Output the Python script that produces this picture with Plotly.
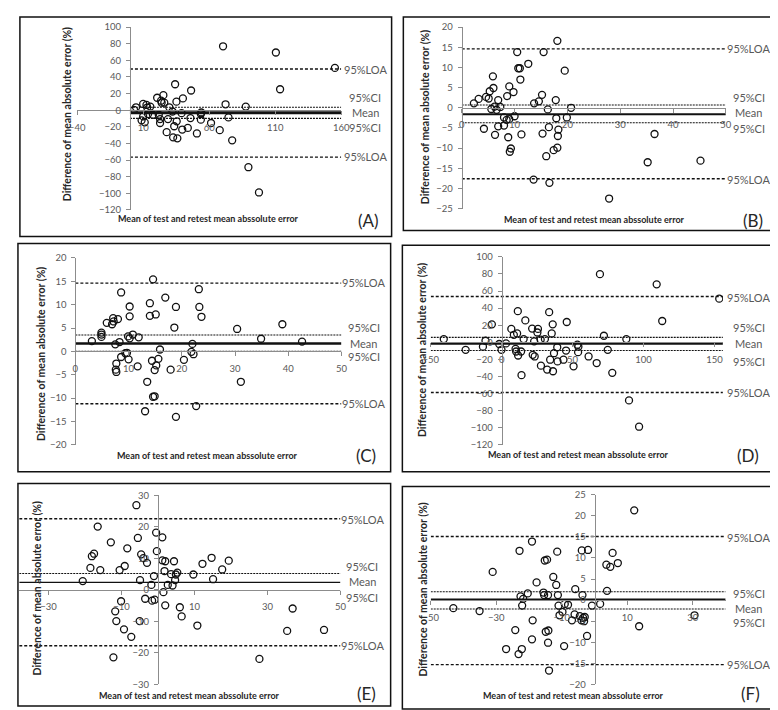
import plotly.graph_objects as go

W, H = 778, 710

# ---------------- data ----------------
a_x = [3.1, 4.6, 10, 8.8, 11.2, 10, 12.5, 13, 13.7, 15.4, 17.4, 20.6, 21.8, 22.8, 22.8, 23.6, 24, 25.3, 26,
       27.8, 28.8, 29.8, 32.2, 33.5, 32.7, 34.2, 35.2, 35.4, 35.9, 39.1, 40.1, 39.6, 43.8, 45.8, 46.3, 50.7,
       53.7, 53.7, 54, 61.4, 68, 70.5, 72.4, 74.6, 77.4, 87.7, 89.7, 97.7, 110.5, 113.7, 155.2]
a_y = [0.4, 3.5, 7.5, -12.2, -14.6, -7.5, 6.3, 3.2, -4.7, 4.3, -5.5, 15, -5.5, -10.7, -15.4, 11.4, 9, 18.1, 9,
       -26.4, -10.7, 3.5, -1.6, -19.3, -32.7, 31.2, 10.3, -13.4, -33.9, -3.6, 14.2, -23.3, -21.3, -9.5, 23.7, -28,
       -4.7, -11.4, -2.8, -15.4, -24, 76.9, 7.1, -8.7, -36.3, 4.3, -68.6, -99, 69.4, 25.2, 50.9]
a_stats = [-56.5, -9.8, -3.2, 3.5, 49.5]   # LOA low, CI low, mean, CI up, LOA up

b_x = [2.3, 3.2, 4.2, 4.6, 5.1, 5.3, 5.6, 5.9, 6.0, 6.2, 6.3, 6.6, 6.9, 6.9, 7.3, 8.0, 8.0, 8.5, 8.6, 8.8, 9.0,
       9.0, 9.1, 9.3, 9.8, 10.0, 10.5, 10.7, 11.0, 11.1, 11.3, 12.6, 13.6, 13.7, 14.6, 15.2, 15.3, 15.5, 16.0,
       16.3, 16.5, 16.6, 17.4, 17.8, 17.9, 18.1, 18.1, 18.2, 18.3, 19.5, 19.9, 20.7, 27.9, 35.2, 36.5, 45.2]
b_y = [1.1, 2.2, -5.2, 2.7, 2.3, 4.1, -0.3, 7.8, 4.9, 0.3, -6.7, -0.5, 1.9, -4.6, 0.2, -4.4, -2.4, -3.0, 2.9,
       -7.3, 5.3, -2.8, -10.9, -10.1, 3.9, -2.1, 13.8, 9.8, 9.8, 7.0, -6.6, 10.9, -17.8, 1.1, 1.6, 3.2, -6.4,
       13.8, -12.0, -0.4, -4.8, -18.6, -10.5, 1.9, -2.6, -9.9, 16.6, -7.0, -5.4, 9.2, -2.4, 0.0, -22.5, -13.5,
       -6.5, -13.1]
b_stats = [-17.6, -3.7, -1.6, 0.7, 14.6]

c_x = [3.1, 4.9, 4.9, 4.9, 5.9, 6.9, 7.1, 7.2, 7.5, 7.6, 7.7, 7.7, 8.0, 8.3, 8.6, 8.6, 9.4, 9.7, 9.9, 10.0,
       10.2, 10.2, 10.2, 10.8, 11.7, 11.9, 13.5, 13.1, 14.0, 14.0, 14.4, 14.6, 14.6, 14.9, 14.9, 15.1, 15.2,
       15.6, 15.9, 16.9, 17.9, 18.6, 18.9, 18.9, 20.4, 21.8, 22.0, 22.2, 22.7, 23.2, 23.3, 23.7, 30.4, 31.1,
       34.9, 38.9, 42.6]
c_y = [2.2, 4.0, 3.6, 3.1, 6.1, 5.8, 7.1, 6.4, 1.5, -3.9, -2.6, -4.4, 6.9, 2.0, 12.6, -1.2, -0.4, -0.3, 3.2,
       -1.7, 2.8, 9.6, 7.5, 3.6, -3.2, 3.0, -6.5, -12.8, 10.3, 7.6, -2.0, 15.4, -9.7, -9.6, -4.0, 7.9, -3.0,
       -1.6, 0.4, 11.5, -3.9, 5.1, 9.5, -14.0, -1.8, -0.1, 1.6, -0.6, -11.7, 13.3, 9.5, 7.4, 4.8, -6.5, 2.7,
       5.8, 2.1]
c_stats = [-11.2, 0.0, 1.7, 3.5, 14.6]

d_x = [-40.8, -25.4, -13.2, -11.4, -6.9, -1.7, -0.1, 3.1, 6.8, 8.6, 9.8, 10.2, 10.9, 11.4, 11.6, 13.7, 14.0,
       15.5, 16.7, 21.5, 21.9, 22.9, 23.3, 25.2, 25.6, 27.5, 27.7, 30.5, 32.1, 33.5, 34.2, 35.3, 36.0, 36.2,
       36.9, 39.2, 39.4, 43.6, 45.4, 45.9, 50.7, 53.4, 53.9, 54.1, 61.3, 67.0, 69.3, 72.1, 74.8, 78.0, 87.9,
       89.8, 96.9, 109.3, 113.2, 153.4]
d_y = [3.8, -8.8, -5.0, 1.9, 21.1, -1.9, -8.8, -1.2, 15.7, 8.8, -7.7, -10.7, 10.4, 36.5, -15.4, -10.7, -38.4,
       3.8, 25.7, 16.1, -14.6, 1.2, -16.5, 11.5, 15.7, 3.1, -27.3, 3.8, -31.9, 35.3, -20.3, 10.4, 21.1, -33.8,
       -12.7, -5.8, -22.3, -20.3, -9.6, 23.8, -28.0, -2.7, -11.5, -5.0, -16.5, -24.2, 79.8, 7.7, -8.8, -35.7,
       3.8, -67.9, -98.7, 67.9, 25.0, 51.1]
d_stats = [-58.7, -9.6, -1.5, 5.8, 53.7]

e_x = [-20.6, -18.5, -18.1, -17.5, -16.5, -15.8, -12.9, -12.2, -11.7, -11.4, -10.5, -10.1, -9.3, -9.1, -8.4,
       -7.3, -5.9, -5.5, -5.0, -4.9, -4.6, -4.0, -3.5, -3.0, -1.8, -1.6, -1.1, -0.9, -0.5, -0.3, 1.2, 1.2, 1.5,
       1.8, 2.0, 2.0, 2.7, 3.6, 4.0, 4.4, 4.7, 4.9, 5.3, 6.0, 6.5, 9.7, 10.8, 12.2, 14.7, 15.1, 17.6, 19.4,
       27.8, 35.4, 36.9, 45.5]
e_y = [2.8, 7.0, 10.7, 11.5, 20.1, 6.3, 15.1, -21.4, -6.8, -9.9, 6.3, -3.6, -12.5, 7.6, 13.2, -14.9, 26.9,
       16.5, -9.9, 3.1, 11.3, 10.1, -2.8, 8.6, 1.6, -3.4, 4.4, -3.1, 18.2, 12.3, 16.7, 9.4, -0.7, 6.0, 9.1,
       -4.9, 1.6, 5.0, 1.4, 9.1, 3.1, 4.9, 5.5, -5.5, -8.4, 4.9, -11.3, 8.3, 10.2, 3.4, 6.5, 9.3, -21.9, -13.0,
       -5.9, -12.7]
e_stats = [-17.7, -0.2, 2.4, 5.2, 22.6]

f_x = [-43.1, -35.1, -31.1, -24.2, -27.0, -23.2, -22.9, -22.6, -22.2, -22.1, -21.8, -20.4, -19.1, -19.1,
       -18.9, -17.7, -15.6, -15.4, -15.2, -14.9, -14.5, -14.2, -14.2, -14.1, -13.9, -12.6, -11.7, -11.4, -11.2,
       -11.0, -10.7, -9.8, -9.3, -9.1, -8.1, -6.9, -6.1, -5.9, -4.5, -4.0, -3.9, -3.7, -3.5, -3.2, -3.0, -2.3,
       -2.0, -0.8, 1.7, 3.6, 3.8, 4.8, 5.5, 7.1, 12.1, 13.6, 30.5]
f_y = [-1.9, -2.6, 6.7, -7.1, -11.6, -12.8, 11.7, 0.9, -11.6, -1.3, 0.3, 1.6, 13.9, -9.3, -4.8, 4.2, 1.8, 1.2,
       9.4, -7.5, 9.6, 1.2, -10.1, -7.2, -16.7, 5.5, 3.6, 11.5, 1.2, -1.3, -3.6, -2.8, -10.9, -0.9, -1.1, -4.8,
       -3.4, 2.6, -3.8, -4.8, 11.8, 1.2, -4.2, -5.0, -4.0, -8.5, 11.9, -1.3, -0.9, 8.4, 2.2, 7.9, 11.2, 8.8,
       21.3, -6.2, -3.6]
f_stats = [-15.3, -2.1, 0.1, 2.0, 15.1]

line_labels = ["95%LOA", "95%CI", "Mean", "95%CI", "95%LOA"]   # top to bottom
panel_letters = ["(A)", "(B)", "(C)", "(D)", "(E)", "(F)"]
x_title = "Mean of test and retest mean abssolute error"
y_title = "Difference of mean absolute error (%)"

# ---------------- layout / style per panel (pixels) ----------------
panels = [
    dict(x=a_x, y=a_y, s=a_stats, xr=[-40, 160], x0=-40, dx=50, yr=[-120, 100], dy=20,
         px=(62.5, 332.5), py=(13.3, 199.0), lx=[0, 160], mw=3.0,
         box=(4, 3, 384, 226), labx=357, laby=[56, 85, 100, 115, 145],
         xt=(197, 208), yt=(53, 102), let=(360, 210)),
    dict(x=b_x, y=b_y, s=b_stats, xr=[0, 50], x0=0, dx=10, yr=[-25, 20], dy=5,
         px=(455.7, 725.7), py=(13.3, 197.7), lx=[0, 50], mw=2.0,
         box=(396, 3, 777, 220), labx=749, laby=[35, 85, 100, 116.7, 168.3],
         xt=(591, 208.5), yt=(419, 105), let=(753, 209.3)),
    dict(x=c_x, y=c_y, s=c_stats, xr=[0, 50], x0=0, dx=10, yr=[-20, 20], dy=5,
         px=(60.7, 332.7), py=(247.7, 437.7), lx=[0, 50], mw=2.5,
         box=(2, 233, 383, 465), labx=355.7, laby=[272.3, 318.3, 334.3, 348.3, 395.7],
         xt=(196, 448.5), yt=(25, 345), let=(358.3, 448.3)),
    dict(x=d_x, y=d_y, s=d_stats, xr=[-50, 156], x0=-50, dx=50, yr=[-120, 100], dy=20,
         px=(424, 722.7), py=(246.7, 437.7), lx=[-50, 156], mw=2.2,
         box=(395, 235, 777, 465), labx=749, laby=[287.7, 318.3, 335, 353.3, 384.3],
         xt=(575, 447.5), yt=(415.7, 341.7), let=(748, 448.3)),
    dict(x=e_x, y=e_y, s=e_stats, xr=[-38, 50], x0=-30, dx=20, yr=[-30, 30], dy=10,
         px=(3.3, 331.7), py=(489, 681), lx=[-38, 50], mw=1.4,
         box=(2, 477, 383, 703), labx=354, laby=[513.3, 560.7, 576, 592.7, 641.7],
         xt=(177.7, 692), yt=(21.7, 583.3), let=(358.3, 690)),
    dict(x=f_x, y=f_y, s=f_stats, xr=[-50, 40], x0=-50, dx=20, yr=[-20, 25], dy=5,
         px=(424, 725.5), py=(488.3, 681), lx=[-50, 40], mw=2.6,
         box=(395, 480, 777, 706), labx=749, laby=[531.7, 588.3, 604.3, 618.3, 661],
         xt=(570, 692), yt=(415.7, 585), let=(751.3, 690)),
]

FONT = "Lato"
GRAY = "#595959"
AXIS = "#8c8c8c"


def fx(p):
    return p / W


def fy(p):
    return 1 - p / H


fig = go.Figure()
shapes, annotations = [], []

for i, p in enumerate(panels, start=1):
    xa, ya = f"x{i}", f"y{i}"
    xk = "xaxis" if i == 1 else f"xaxis{i}"
    yk = "yaxis" if i == 1 else f"yaxis{i}"
    px0, px1 = p["px"]
    py0, py1 = p["py"]
    xr, yr = p["xr"], p["yr"]
    # paper position of x=0 / y=0 for Excel-style crossing axes
    x_zero_px = px0 + (0 - xr[0]) / (xr[1] - xr[0]) * (px1 - px0)
    y_zero_px = py1 - (0 - yr[0]) / (yr[1] - yr[0]) * (py1 - py0)

    xticks = []
    v = p["x0"]
    while v <= xr[1] + 1e-9:
        xticks.append(v)
        v += p["dx"]

    fig.update_layout({
        xk: dict(domain=[fx(px0), fx(px1)], range=xr, anchor="free", position=fy(y_zero_px),
                 showgrid=False, zeroline=False, showline=True, linecolor=AXIS, linewidth=1,
                 ticks="outside", ticklen=4, tickcolor=AXIS, tickvals=xticks,
                 tickfont=dict(family=FONT, size=9.5, color=GRAY), ticklabelstandoff=4),
        yk: dict(domain=[fy(py1), fy(py0)], range=yr, anchor="free", position=fx(x_zero_px),
                 showgrid=False, zeroline=False, showline=True, linecolor=AXIS, linewidth=1,
                 ticks="outside", ticklen=4, tickcolor=AXIS, dtick=p["dy"], tick0=0,
                 tickfont=dict(family=FONT, size=9.5, color=GRAY), ticklabelstandoff=3),
    })

    loa_lo, ci_lo, mean, ci_up, loa_up = p["s"]
    for val, dash, width in [(loa_up, "3px,2px", 1.4), (loa_lo, "3px,2px", 1.4),
                             (ci_up, "2px,1px", 1.1), (ci_lo, "2px,1px", 1.1),
                             (mean, "solid", p["mw"])]:
        fig.add_trace(go.Scatter(x=p["lx"], y=[val, val], mode="lines", xaxis=xa, yaxis=ya,
                                 line=dict(color="#111111", width=width, dash=dash),
                                 hoverinfo="skip", showlegend=False))

    fig.add_trace(go.Scatter(x=p["x"], y=p["y"], mode="markers", xaxis=xa, yaxis=ya,
                             marker=dict(symbol="circle-open", size=7, color="#111111",
                                         line=dict(width=1.3, color="#111111")),
                             showlegend=False))

    # frame
    bx0, by0, bx1, by1 = p["box"]
    shapes.append(dict(type="rect", xref="paper", yref="paper", x0=fx(bx0), x1=fx(bx1),
                       y0=fy(by1), y1=fy(by0), line=dict(color="#111111", width=1.5)))

    for txt, ly in zip(line_labels, p["laby"]):
        annotations.append(dict(text=txt, xref="paper", yref="paper", x=fx(p["labx"]), y=fy(ly),
                                xanchor="center", yanchor="middle", showarrow=False,
                                font=dict(family=FONT, size=11, color=GRAY)))
    annotations.append(dict(text=f"<b>{x_title}</b>", xref="paper", yref="paper",
                            x=fx(p["xt"][0]), y=fy(p["xt"][1]), xanchor="center", yanchor="middle",
                            showarrow=False, font=dict(family=FONT, size=9, color="#262626")))
    annotations.append(dict(text=f"<b>{y_title}</b>", xref="paper", yref="paper", textangle=-90,
                            x=fx(p["yt"][0]), y=fy(p["yt"][1]), xanchor="center", yanchor="middle",
                            showarrow=False, font=dict(family=FONT, size=10.5, color="#262626")))
    annotations.append(dict(text=panel_letters[i - 1], xref="paper", yref="paper",
                            x=fx(p["let"][0]), y=fy(p["let"][1]), xanchor="center", yanchor="middle",
                            showarrow=False, font=dict(family=FONT, size=17, color="#262626")))

fig.update_layout(width=W, height=H, margin=dict(l=0, r=0, t=0, b=0),
                  paper_bgcolor="white", plot_bgcolor="rgba(0,0,0,0)",
                  shapes=shapes, annotations=annotations, showlegend=False)

fig.write_html("out.html")
